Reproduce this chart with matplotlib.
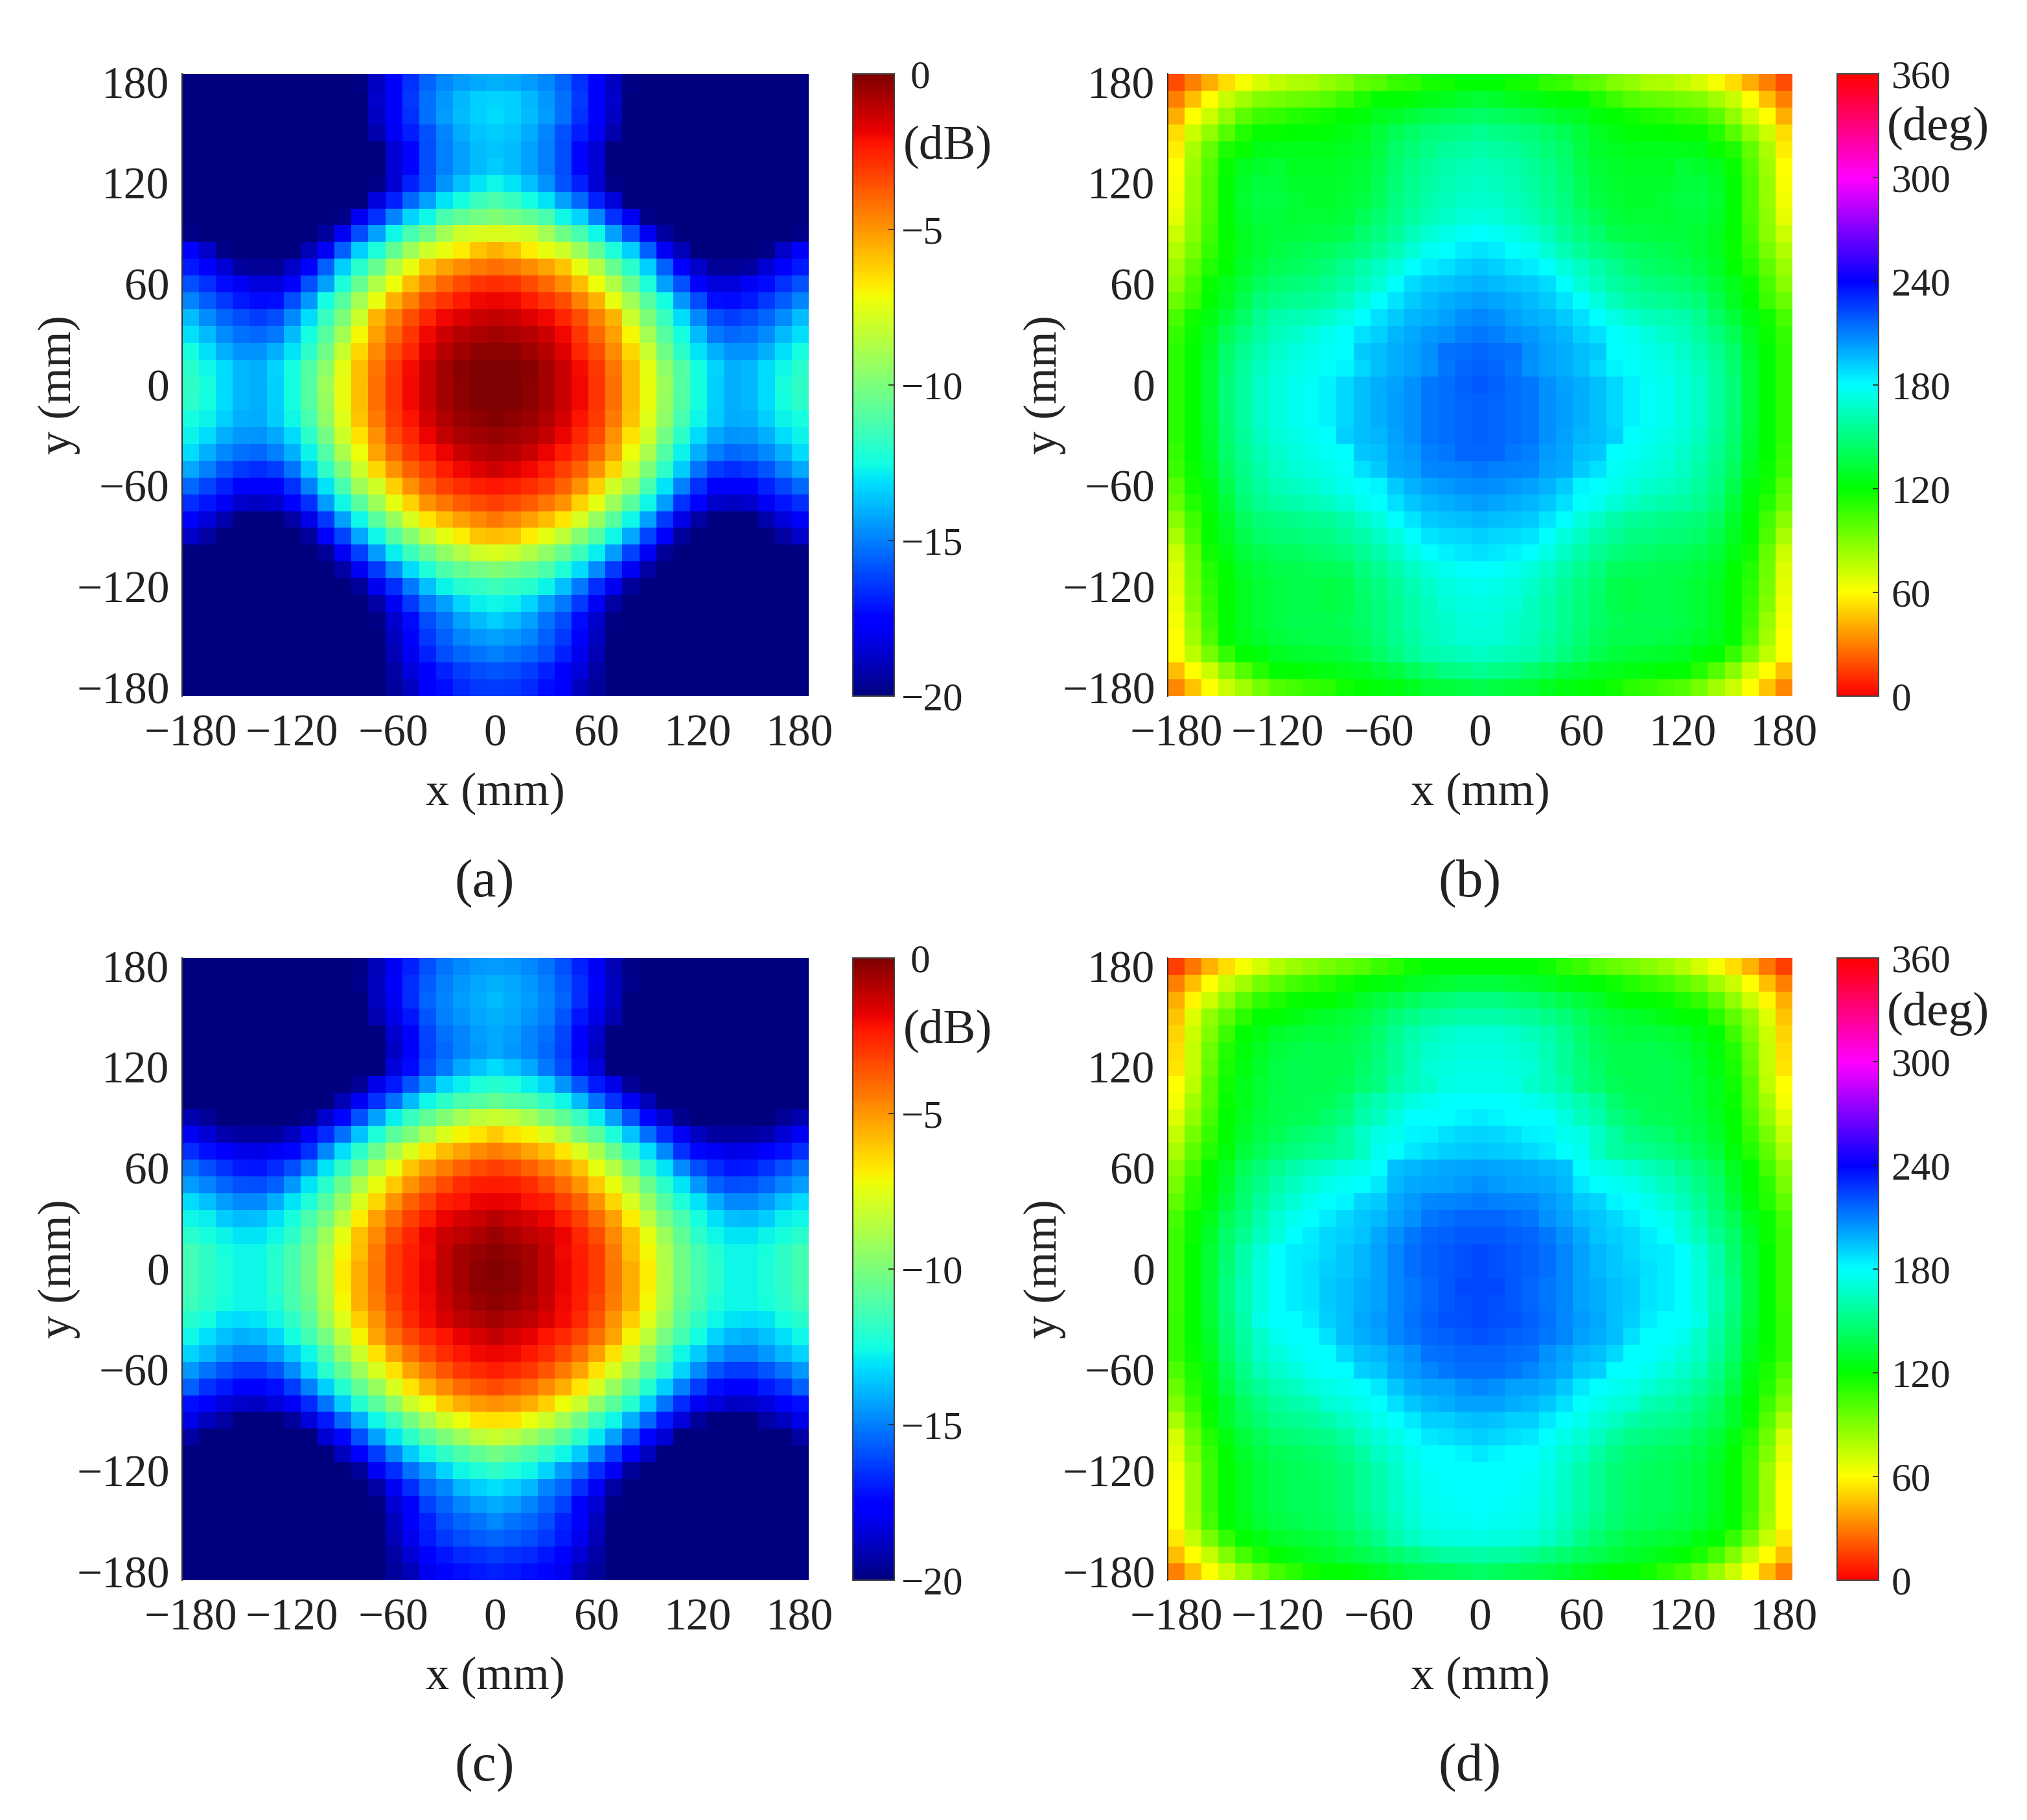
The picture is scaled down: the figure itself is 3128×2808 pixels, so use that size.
import numpy as np
import matplotlib
matplotlib.use("Agg")
import matplotlib.pyplot as plt
from matplotlib.colors import ListedColormap, hsv_to_rgb
from matplotlib.transforms import ScaledTranslation

plt.rcParams['font.family'] = ['Liberation Serif', 'DejaVu Serif']

# left half of each map (x = -180..0), rows from y = 180 down to y = -180
amp_a = [
    [-20]*10 + [-19.9, -18.8, -17.8, -16.5, -15.5, -14.8, -14.4, -14.2, -14.0],
    [-20]*11 + [-18.7, -17.7, -16.4, -15.3, -14.5, -13.9, -13.4, -13.3],
    [-20]*11 + [-18.8, -17.8, -16.5, -15.3, -14.4, -13.8, -13.4, -13.2],
    [-20]*11 + [-19.2, -17.9, -16.9, -15.9, -14.9, -14.1, -13.6, -13.5],
    [-20]*12 + [-18.5, -17.4, -16.0, -15.0, -14.3, -13.8, -13.6],
    [-20]*12 + [-18.5, -17.4, -16.0, -15.0, -14.3, -13.8, -13.5],
    [-20]*11 + [-19.8, -18.5, -16.8, -15.8, -14.6, -13.7, -13.0, -12.6],
    [-20]*11 + [-18.4, -16.8, -15.4, -14.3, -13.0, -12.5, -11.6, -11.2],
    [-20]*9 + [-19.8, -17.9, -16.5, -14.9, -13.3, -12.6, -11.2, -10.7, -10.2, -9.9],
    [-19.8] + [-20]*7 + [-19.4, -17.9, -16.0, -14.3, -12.6, -11.3, -10.3, -9.0, -8.0, -7.8, -7.7],
    [-17.8, -18.7, -19.8] + [-20]*4 + [-19.0, -17.9, -15.6, -13.4, -12.3, -10.7, -9.2, -8.0, -7.4, -6.8, -6.0, -5.6],
    [-17.0, -17.8, -18.5, -19.4, -19.6, -19.6, -18.7, -17.8, -15.6, -13.4, -12.0, -10.5, -8.6, -7.4, -6.0, -5.3, -4.8, -4.4, -4.2],
    [-15.9, -16.5, -17.3, -17.9, -18.4, -18.4, -17.5, -15.9, -14.3, -12.3, -10.5, -8.7, -7.2, -5.8, -4.8, -4.0, -3.4, -2.9, -2.8],
    [-14.9, -15.7, -16.4, -17.0, -17.3, -17.2, -16.0, -14.5, -12.5, -10.9, -9.0, -7.4, -5.6, -4.6, -3.5, -2.9, -2.4, -2.0, -1.9],
    [-13.8, -14.7, -15.5, -16.0, -16.3, -16.0, -14.8, -13.2, -11.7, -10.0, -8.1, -5.7, -4.6, -3.5, -2.6, -2.0, -1.7, -1.3, -1.2],
    [-13.1, -13.8, -14.7, -15.3, -15.4, -15.1, -13.8, -12.5, -10.9, -9.0, -7.1, -5.2, -4.0, -2.9, -2.0, -1.4, -1.0, -0.8, -0.7],
    [-12.5, -13.1, -14.0, -14.6, -14.6, -14.0, -13.0, -11.9, -10.3, -8.2, -6.4, -4.7, -3.5, -2.6, -1.7, -1.0, -0.6, -0.3, -0.25],
    [-12.0, -12.6, -13.2, -13.9, -14.0, -13.3, -12.5, -11.0, -9.6, -7.5, -5.8, -4.3, -3.0, -2.1, -1.3, -0.7, -0.2, 0.0, 0.0],
    [-11.8, -12.4, -13.2, -13.9, -14.0, -13.4, -12.5, -11.0, -9.2, -7.4, -5.8, -4.2, -2.9, -2.0, -1.3, -0.7, -0.3, -0.05, 0.0],
    [-11.9, -12.5, -13.2, -13.9, -14.0, -13.4, -12.5, -11.0, -9.3, -7.4, -5.8, -4.2, -2.9, -2.0, -1.3, -0.7, -0.3, -0.05, 0.0],
    [-12.5, -12.7, -13.4, -14.0, -14.1, -13.5, -12.6, -11.3, -9.5, -7.6, -6.0, -4.4, -3.1, -2.2, -1.5, -0.9, -0.5, -0.3, -0.1],
    [-12.7, -13.2, -14.0, -14.5, -14.6, -14.2, -13.2, -11.9, -10.2, -8.0, -6.6, -4.9, -3.4, -2.6, -1.9, -1.2, -0.8, -0.6, -0.4],
    [-13.2, -14.0, -14.8, -15.3, -15.4, -15.0, -14.0, -12.7, -11.0, -8.9, -7.2, -5.3, -4.0, -3.0, -2.4, -1.9, -1.3, -1.0, -0.8],
    [-14.2, -15.0, -15.8, -16.4, -16.6, -16.3, -15.2, -13.5, -11.8, -10.0, -8.0, -6.4, -5.0, -3.9, -3.2, -2.5, -2.0, -1.7, -1.4],
    [-15.4, -16.1, -16.8, -17.5, -17.8, -17.5, -16.5, -15.0, -13.0, -11.3, -9.1, -7.9, -6.2, -4.9, -3.9, -3.2, -2.8, -2.5, -2.3],
    [-16.6, -17.1, -17.9, -18.6, -18.8, -18.6, -17.8, -16.5, -14.4, -12.6, -10.8, -9.2, -7.5, -6.3, -5.0, -4.3, -3.8, -3.4, -3.2],
    [-17.5, -18.4, -19.2, -20, -20, -20, -19.3, -18.2, -16.4, -14.3, -12.6, -10.9, -9.3, -7.8, -6.7, -5.8, -5.2, -4.7, -4.3],
    [-18.7, -19.3, -20, -20, -20, -20, -20, -19.5, -17.8, -16.1, -14.2, -12.6, -11.0, -9.8, -8.4, -7.5, -6.8, -6.0, -5.8],
    [-20]*8 + [-19.6, -17.9, -16.2, -14.4, -12.8, -11.6, -10.5, -9.5, -8.7, -8.0, -7.7],
    [-20]*9 + [-19.3, -17.9, -16.4, -14.7, -13.2, -12.2, -11.1, -10.6, -10.2, -9.9],
    [-20]*10 + [-19.5, -18.0, -16.6, -15.1, -13.7, -12.7, -12.1, -11.8, -11.5],
    [-20]*11 + [-19.3, -17.9, -16.4, -15.1, -14.3, -13.3, -12.8, -12.6],
    [-20]*11 + [-19.9, -18.6, -17.3, -16.0, -15.2, -14.3, -13.8, -13.4],
    [-20]*12 + [-18.9, -17.8, -16.4, -15.6, -14.9, -14.5, -14.3],
    [-20]*12 + [-19.0, -18.0, -16.8, -16.0, -15.5, -15.2, -15.0],
    [-20]*12 + [-19.3, -18.4, -17.5, -16.8, -16.3, -16.0, -15.8],
    [-20]*12 + [-19.5, -18.9, -17.8, -17.2, -16.7, -16.4, -16.3],
]

amp_c = [
    [-20]*10 + [-19.8, -19.0, -17.9, -16.8, -15.9, -15.2, -14.8, -14.5, -14.4],
    [-20]*10 + [-19.7, -18.9, -17.8, -16.6, -15.7, -15.0, -14.5, -14.2, -14.0],
    [-20]*11 + [-18.9, -17.9, -16.6, -15.5, -14.9, -14.4, -14.1, -13.8],
    [-20]*11 + [-19.1, -18.2, -17.1, -15.8, -15.0, -14.6, -14.2, -14.0],
    [-20]*12 + [-18.6, -17.6, -16.1, -15.3, -14.9, -14.4, -14.2],
    [-20]*12 + [-18.8, -17.7, -16.2, -15.4, -14.9, -14.5, -14.2],
    [-20]*12 + [-18.4, -17.3, -16.0, -15.1, -14.2, -13.6, -13.2],
    [-20]*10 + [-19.6, -18.2, -17.0, -15.8, -14.6, -13.3, -12.8, -12.3, -12.1],
    [-20]*9 + [-19.0, -17.9, -16.5, -15.3, -13.8, -12.6, -11.9, -11.2, -11.0, -10.6],
    [-19.1, -19.6] + [-20]*5 + [-19.7, -18.6, -17.4, -15.9, -14.3, -12.8, -11.7, -10.7, -9.9, -9.0, -8.4, -8.2],
    [-17.9, -18.5, -19.2, -19.4, -19.5, -19.4, -18.9, -17.9, -16.7, -15.3, -13.6, -12.3, -10.8, -10.0, -8.7, -7.7, -7.0, -6.7, -6.1],
    [-16.6, -17.2, -17.7, -18.1, -18.2, -17.9, -17.4, -16.5, -14.8, -13.1, -11.9, -10.4, -8.9, -7.7, -6.7, -5.8, -5.3, -4.8, -4.5],
    [-15.3, -15.9, -16.5, -17.0, -17.1, -16.7, -16.0, -14.7, -13.0, -11.8, -10.3, -8.6, -7.4, -6.0, -5.1, -4.5, -3.9, -3.4, -3.2],
    [-14.4, -14.9, -15.5, -15.9, -16.0, -15.6, -14.5, -13.0, -12.0, -10.4, -8.8, -7.4, -6.1, -5.0, -4.1, -3.4, -2.8, -2.5, -2.4],
    [-13.2, -13.7, -14.4, -14.8, -14.8, -14.1, -13.0, -12.2, -11.0, -9.4, -7.7, -6.4, -5.0, -3.9, -3.2, -2.5, -2.2, -1.9, -1.8],
    [-12.6, -12.8, -13.5, -13.8, -13.7, -13.1, -12.4, -11.2, -10.1, -8.5, -6.8, -5.2, -4.1, -3.2, -2.5, -1.9, -1.5, -1.3, -1.0],
    [-12.0, -12.4, -12.7, -13.0, -13.0, -12.6, -11.9, -10.7, -9.2, -7.5, -5.9, -4.7, -3.5, -2.6, -1.9, -1.4, -1.1, -0.8, -0.5],
    [-11.4, -11.8, -12.4, -12.6, -12.6, -12.1, -11.3, -10.3, -8.8, -7.1, -5.8, -4.4, -3.1, -2.5, -2.0, -1.2, -0.7, -0.4, -0.2],
    [-11.4, -11.8, -12.3, -12.6, -12.6, -12.0, -11.2, -10.2, -8.7, -6.8, -5.5, -4.3, -3.1, -2.4, -1.9, -1.2, -0.7, -0.3, -0.1],
    [-11.4, -11.8, -12.3, -12.6, -12.6, -12.0, -11.2, -10.2, -8.7, -6.9, -5.5, -4.3, -3.1, -2.4, -1.9, -1.2, -0.7, -0.3, -0.2],
    [-11.5, -12.0, -12.4, -12.6, -12.6, -12.2, -11.3, -10.4, -8.8, -7.1, -5.6, -4.5, -3.3, -2.5, -2.0, -1.3, -0.8, -0.5, -0.3],
    [-12.1, -12.5, -13.0, -13.2, -13.0, -12.6, -11.8, -10.8, -9.2, -7.6, -6.2, -5.0, -3.6, -2.7, -2.1, -1.6, -1.1, -0.9, -0.7],
    [-12.6, -13.1, -13.7, -14.0, -13.9, -13.3, -12.5, -11.4, -10.1, -8.4, -7.0, -5.3, -4.2, -3.3, -2.7, -2.2, -1.8, -1.5, -1.2],
    [-13.3, -13.9, -14.5, -15.0, -15.0, -14.4, -13.5, -12.6, -11.1, -9.5, -8.0, -6.6, -5.2, -4.2, -3.4, -2.8, -2.3, -2.0, -1.9],
    [-14.5, -15.2, -15.8, -16.3, -16.3, -15.8, -14.7, -13.3, -12.0, -10.7, -9.2, -7.8, -6.6, -5.3, -4.4, -3.6, -3.0, -2.7, -2.5],
    [-15.6, -16.5, -17.0, -17.5, -17.6, -17.2, -16.3, -15.0, -13.4, -12.1, -10.6, -9.3, -7.8, -6.7, -5.5, -4.8, -4.1, -3.7, -3.4],
    [-17.2, -17.8, -18.4, -18.7, -18.8, -18.4, -17.9, -16.7, -15.2, -13.5, -12.1, -10.8, -9.6, -8.1, -7.2, -6.2, -5.5, -5.1, -4.9],
    [-18.2, -18.9, -19.3, -20, -20, -20, -19.5, -18.4, -17.0, -15.5, -14.0, -12.6, -11.5, -10.2, -9.0, -8.0, -7.3, -6.7, -6.6],
    [-19.3] + [-20]*7 + [-18.5, -17.4, -15.9, -14.3, -12.9, -11.9, -10.8, -10.0, -9.2, -8.5, -8.2],
    [-20]*9 + [-18.9, -17.7, -16.3, -14.9, -13.5, -12.6, -11.8, -11.1, -10.7, -10.2],
    [-20]*10 + [-19.5, -17.9, -16.6, -15.3, -14.4, -13.3, -12.6, -12.2, -11.8],
    [-20]*11 + [-19.3, -17.9, -16.6, -15.4, -14.9, -13.9, -13.4, -13.1],
    [-20]*11 + [-19.9, -18.5, -17.5, -16.2, -15.5, -14.9, -14.4, -14.1],
    [-20]*12 + [-18.9, -17.8, -16.8, -16.0, -15.5, -15.2, -14.8],
    [-20]*12 + [-19.0, -18.1, -17.0, -16.4, -16.0, -15.7, -15.5],
    [-20]*12 + [-19.3, -18.5, -17.8, -17.1, -16.7, -16.5, -16.3],
    [-20]*12 + [-19.5, -19.0, -18.0, -17.4, -17.2, -17.0, -16.8],
]

phase_b = [
    [18, 30, 41, 52, 62, 69, 75, 79, 80, 86, 90, 97, 100, 107, 109, 115, 116, 120, 120],
    [30, 45, 60, 73, 82, 90, 92, 95, 97, 100, 106, 113, 120, 120, 122, 125, 127, 130, 132],
    [41, 60, 72, 86, 98, 106, 108, 112, 114, 117, 120, 122, 128, 130, 134, 137, 140, 142, 144],
    [52, 72, 86, 100, 112, 118, 119, 120, 121, 122, 124, 128, 134, 140, 144, 148, 150, 152, 154],
    [56, 80, 97, 113, 118, 125, 126, 126, 126, 126, 128, 130, 136, 144, 148, 152, 156, 158, 160],
    [60, 83, 100, 118, 127, 130, 132, 128, 128, 128, 130, 132, 138, 146, 152, 156, 160, 162, 164],
    [61, 85, 102, 120, 130, 134, 134, 130, 130, 130, 131, 134, 140, 148, 154, 158, 162, 165, 166],
    [63, 85, 102, 120, 131, 136, 136, 132, 130, 130, 132, 136, 142, 150, 155, 160, 164, 167, 168],
    [66, 87, 103, 120, 130, 134, 134, 132, 132, 132, 134, 140, 146, 152, 158, 163, 167, 170, 172],
    [72, 88, 105, 120, 128, 132, 134, 134, 135, 136, 138, 145, 150, 156, 164, 170, 174, 178, 180],
    [78, 92, 108, 118, 128, 132, 136, 138, 140, 142, 146, 150, 156, 162, 170, 177, 180, 184, 186],
    [84, 98, 112, 120, 130, 136, 140, 142, 144, 148, 154, 160, 166, 172, 180, 184, 187, 191, 193],
    [88, 103, 118, 126, 134, 142, 146, 148, 150, 154, 158, 164, 170, 180, 188, 192, 194, 196, 198],
    [95, 106, 120, 128, 138, 148, 152, 154, 156, 158, 164, 172, 180, 186, 192, 196, 199, 201, 203],
    [103, 116, 124, 134, 144, 154, 160, 162, 164, 168, 174, 180, 187, 192, 197, 199, 202, 206, 208],
    [108, 118, 128, 140, 150, 158, 164, 168, 172, 176, 180, 187, 191, 197, 200, 204, 206, 210, 212],
    [110, 120, 130, 144, 154, 162, 168, 172, 175, 178, 180, 192, 195, 199, 202, 206, 213, 214, 216],
    [110, 120, 132, 146, 157, 165, 170, 174, 176, 179, 182, 189, 195, 199, 202, 206, 212, 216, 217],
    [110, 120, 132, 148, 158, 167, 172, 176, 178, 183, 189, 195, 199, 202, 206, 212, 214, 217, 219],
    [110, 120, 132, 148, 158, 167, 172, 176, 178, 183, 189, 195, 199, 203, 206, 212, 214, 216, 217],
    [110, 120, 132, 147, 158, 167, 172, 176, 178, 183, 189, 195, 199, 203, 206, 212, 214, 216, 217],
    [110, 120, 131, 146, 156, 165, 170, 174, 177, 180, 191, 195, 197, 202, 206, 212, 214, 216, 217],
    [108, 120, 130, 144, 154, 162, 168, 172, 175, 178, 180, 193, 195, 201, 204, 210, 212, 216, 216],
    [106, 118, 128, 142, 152, 160, 166, 170, 172, 175, 178, 187, 192, 200, 202, 208, 209, 210, 212],
    [100, 116, 124, 138, 150, 157, 162, 166, 168, 172, 176, 180, 182, 192, 198, 202, 204, 206, 207],
    [96, 112, 122, 134, 147, 154, 158, 160, 162, 166, 170, 176, 180, 187, 193, 197, 199, 201, 203],
    [88, 105, 120, 130, 142, 148, 150, 152, 154, 156, 160, 166, 172, 180, 186, 192, 194, 195, 197],
    [80, 102, 120, 128, 138, 144, 147, 148, 150, 151, 156, 160, 166, 172, 180, 186, 188, 189, 191],
    [72, 96, 116, 124, 134, 138, 141, 142, 144, 146, 149, 154, 160, 166, 174, 180, 183, 185, 187],
    [68, 94, 112, 120, 130, 134, 137, 138, 139, 140, 142, 149, 154, 160, 166, 172, 176, 179, 180],
    [66, 92, 110, 120, 128, 132, 135, 137, 137, 136, 138, 145, 150, 156, 162, 168, 172, 175, 176],
    [64, 90, 108, 120, 128, 132, 135, 137, 137, 136, 138, 144, 149, 154, 160, 165, 170, 173, 174],
    [62, 85, 106, 120, 128, 133, 136, 138, 138, 138, 140, 144, 149, 154, 160, 165, 168, 171, 172],
    [60, 82, 102, 120, 126, 130, 134, 136, 137, 137, 138, 142, 148, 153, 158, 164, 167, 170, 170],
    [60, 76, 92, 108, 120, 122, 128, 130, 131, 132, 134, 138, 144, 150, 156, 160, 162, 164, 166],
    [45, 60, 72, 88, 100, 112, 120, 120, 122, 124, 126, 128, 132, 136, 141, 145, 150, 152, 154],
    [32, 46, 60, 72, 82, 92, 100, 104, 108, 110, 116, 120, 122, 124, 128, 132, 134, 136, 138],
]

phase_d = [
    [15, 28, 42, 52, 62, 70, 78, 84, 88, 92, 96, 100, 106, 110, 116, 120, 120, 120, 120],
    [30, 45, 60, 72, 82, 92, 98, 104, 108, 112, 116, 120, 122, 124, 128, 130, 132, 134, 134],
    [41, 58, 72, 86, 98, 108, 114, 118, 120, 120, 124, 130, 134, 138, 142, 146, 148, 150, 150],
    [46, 68, 86, 98, 110, 120, 120, 124, 128, 130, 132, 136, 142, 148, 152, 156, 158, 160, 160],
    [50, 72, 90, 106, 120, 124, 130, 132, 134, 134, 136, 140, 146, 154, 160, 164, 168, 170, 170],
    [52, 74, 94, 112, 122, 128, 134, 136, 138, 137, 138, 142, 148, 156, 162, 168, 170, 172, 172],
    [54, 74, 96, 114, 124, 130, 136, 138, 138, 137, 138, 144, 150, 156, 164, 170, 172, 174, 174],
    [60, 76, 100, 116, 126, 132, 136, 138, 138, 138, 140, 146, 150, 160, 164, 168, 174, 175, 175],
    [62, 82, 100, 118, 126, 132, 137, 138, 139, 140, 146, 156, 161, 167, 173, 176, 179, 180, 180],
    [68, 86, 104, 120, 128, 134, 137, 139, 140, 145, 150, 160, 165, 173, 180, 180, 180, 182, 184],
    [74, 92, 108, 120, 130, 136, 140, 144, 148, 150, 158, 167, 174, 176, 182, 183, 187, 189, 190],
    [80, 98, 112, 122, 134, 140, 146, 150, 153, 155, 158, 166, 176, 180, 185, 188, 191, 192, 193],
    [88, 104, 120, 128, 140, 148, 154, 160, 164, 168, 172, 175, 180, 195, 197, 199, 200, 201, 202],
    [92, 110, 120, 130, 144, 152, 160, 165, 170, 175, 178, 180, 185, 197, 200, 201, 202, 204, 206],
    [98, 112, 122, 134, 146, 156, 164, 170, 176, 180, 182, 190, 192, 200, 204, 208, 209, 210, 211],
    [104, 118, 126, 140, 150, 160, 170, 176, 180, 184, 189, 193, 196, 202, 206, 212, 214, 216, 216],
    [106, 118, 130, 144, 154, 164, 172, 180, 184, 189, 191, 194, 200, 206, 212, 216, 217, 219, 219],
    [106, 120, 132, 146, 160, 170, 180, 184, 185, 189, 193, 197, 202, 208, 214, 217, 219, 221, 223],
    [106, 120, 132, 148, 160, 172, 180, 184, 187, 191, 193, 197, 202, 208, 214, 217, 219, 221, 223],
    [106, 120, 133, 150, 162, 172, 180, 184, 186, 192, 195, 199, 202, 208, 212, 216, 219, 223, 223],
    [106, 120, 133, 150, 162, 172, 180, 184, 186, 192, 195, 199, 202, 208, 212, 216, 219, 222, 223],
    [108, 120, 132, 148, 160, 175, 180, 180, 184, 191, 195, 200, 204, 208, 213, 217, 220, 221, 223],
    [108, 120, 130, 146, 158, 168, 176, 180, 180, 187, 195, 199, 202, 208, 212, 216, 217, 219, 221],
    [108, 118, 128, 144, 156, 166, 172, 176, 180, 180, 189, 195, 197, 202, 206, 213, 214, 216, 216],
    [102, 115, 124, 140, 152, 162, 168, 172, 176, 180, 180, 191, 193, 200, 204, 208, 212, 214, 214],
    [96, 112, 122, 136, 148, 156, 162, 166, 170, 174, 177, 180, 185, 193, 199, 202, 202, 206, 208],
    [90, 106, 120, 130, 142, 150, 156, 160, 162, 170, 172, 176, 180, 187, 193, 197, 199, 202, 202],
    [80, 100, 118, 130, 140, 146, 152, 154, 156, 160, 166, 170, 176, 180, 185, 191, 191, 194, 195],
    [70, 94, 112, 124, 134, 140, 145, 148, 150, 152, 158, 165, 170, 175, 180, 185, 187, 189, 191],
    [66, 90, 108, 120, 130, 136, 140, 142, 144, 146, 152, 158, 166, 170, 176, 180, 180, 182, 185],
    [62, 84, 106, 120, 128, 134, 138, 140, 142, 144, 148, 154, 160, 168, 174, 178, 180, 180, 180],
    [60, 84, 106, 120, 128, 134, 138, 140, 141, 143, 148, 154, 160, 167, 173, 177, 179, 180, 180],
    [60, 84, 106, 120, 128, 134, 138, 140, 141, 143, 148, 154, 160, 167, 172, 176, 178, 179, 180],
    [60, 82, 104, 120, 126, 132, 136, 138, 140, 142, 146, 152, 158, 164, 170, 174, 176, 177, 178],
    [55, 74, 92, 108, 120, 124, 130, 132, 134, 136, 140, 146, 152, 160, 166, 170, 172, 173, 174],
    [45, 60, 74, 90, 104, 114, 120, 124, 128, 130, 134, 138, 142, 146, 150, 154, 158, 158, 160],
    [30, 45, 60, 72, 84, 94, 104, 110, 116, 120, 120, 124, 128, 132, 136, 138, 140, 142, 144],
]

xy_ticks = [-180, -120, -60, 0, 60, 120, 180]
db_ticks = [-20, -15, -10, -5, 0]
deg_ticks = [0, 60, 120, 180, 240, 300, 360]

W, H = 3128, 2808
fig = plt.figure(figsize=(W / 100, H / 100), dpi=100)
FS = 50

hues = np.linspace(0, 1, 361)
hsv_map = ListedColormap(hsv_to_rgb(np.c_[hues, np.ones(361), np.ones(361)]))


def add_px(x0, y0, w, h):
    return fig.add_axes([x0 / W, 1 - (y0 + h) / H, w / W, h / H])


def panel(left, x0, y0, w, cb_x, cmap, vmin, vmax, ticks, cb_pad, unit, unit_x, unit_y, letter, letter_x, letter_y):
    left = np.array(left, dtype=float)
    # the right half mirrors the left half
    Z = np.hstack([left, left[:, -2::-1]])
    ax = add_px(x0, y0, w, 960)
    im = ax.imshow(Z, extent=[-185, 185, -185, 185], origin='upper', aspect='auto',
                   cmap=cmap, vmin=vmin, vmax=vmax, interpolation='nearest')
    ax.set_xticks(xy_ticks)
    ax.set_yticks(xy_ticks)
    ax.tick_params(length=0, labelsize=FS, colors='#222222')
    ax.tick_params(axis='x', pad=20)
    ax.tick_params(axis='y', pad=14)
    for s in ['top', 'right', 'bottom']:
        ax.spines[s].set_visible(False)
    ax.spines['left'].set_color('#333333')
    ax.spines['left'].set_linewidth(1.5)
    ax.set_xlabel('x (mm)', fontsize=FS + 2, color='#222222', labelpad=19)
    ax.set_ylabel('y (mm)', fontsize=FS + 2, color='#222222', labelpad=-4)

    cax = add_px(cb_x, y0, 64, 960)
    cb = fig.colorbar(im, cax=cax, ticks=ticks)
    cb.outline.set_edgecolor('#444444')
    cb.outline.set_linewidth(1.5)
    cax.tick_params(direction='in', length=6.5, width=1.2, color='#222222',
                    labelsize=44, pad=cb_pad, labelcolor='#222222')
    if unit == '(dB)':
        cb.ax.set_yticklabels(['\u2212%d' % abs(t) if t else '0' for t in ticks])
        # the 0 at the top sits further right than the negative labels
        for lab, t in zip(cax.get_yticklabels(), ticks):
            if t == 0:
                lab.set_transform(lab.get_transform() + ScaledTranslation(14 / 100, 0, fig.dpi_scale_trans))
    fig.text(unit_x / W, 1 - unit_y / H, unit, fontsize=54, ha='left', va='center', color='#222222')
    fig.text(letter_x / W, 1 - letter_y / H, letter, fontsize=60, ha='center', va='center', color='#222222')


panel(amp_a, 281, 114, 966, 1316, 'jet', -20, 0, db_ticks, 8, '(dB)', 1394, 226, '(a)', 748, 1364)
panel(phase_b, 1802, 114, 964, 2835, hsv_map, 0, 360, deg_ticks, 14, '(deg)', 2912, 198, '(b)', 2268, 1364)
panel(amp_c, 281, 1478, 966, 1316, 'jet', -20, 0, db_ticks, 8, '(dB)', 1394, 1590, '(c)', 748, 2728)
panel(phase_d, 1802, 1478, 964, 2835, hsv_map, 0, 360, deg_ticks, 14, '(deg)', 2912, 1564, '(d)', 2268, 2728)

fig.savefig('out.png', dpi=100, facecolor='white')
